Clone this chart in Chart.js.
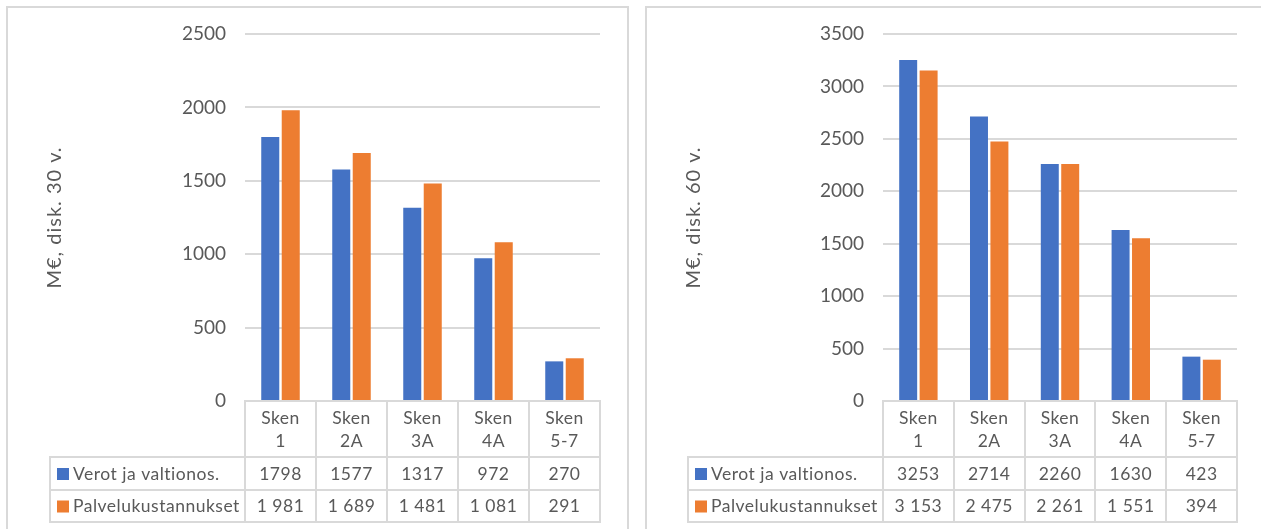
<!DOCTYPE html>
<html>
<head>
<meta charset="utf-8">
<script src="https://cdn.jsdelivr.net/npm/chart.js@4.4.1/dist/chart.umd.min.js"></script>
<style>
  html, body { margin: 0; padding: 0; background: #ffffff; }
  body { width: 1261px; height: 529px; position: relative; overflow: hidden; }
  .panel { position: absolute; box-sizing: border-box; border: 2px solid #d9d9d9; background: #fff; }
  #p1 { left: 6px; top: 6px; width: 623px; height: 540px; }
  #p2 { left: 645px; top: 6px; width: 640px; height: 540px; }
  canvas { position: absolute; top: 0; }
  #c1 { left: 0; }
  #c2 { left: 640px; }
</style>
</head>
<body>
<div class="panel" id="p1"></div>
<div class="panel" id="p2"></div>
<canvas id="c1" width="640" height="529"></canvas>
<canvas id="c2" width="621" height="529"></canvas>
<script>
// ---- data ----
const categories = [["Sken", "1"], ["Sken", "2A"], ["Sken", "3A"], ["Sken", "4A"], ["Sken", "5-7"]];
const seriesNames = ["Verot ja valtionos.", "Palvelukustannukset"];
const verot30 = [1798, 1577, 1317, 972, 270];
const palvelu30 = [1981, 1689, 1481, 1081, 291];
const verot60 = [3253, 2714, 2260, 1630, 423];
const palvelu60 = [3153, 2475, 2261, 1551, 394];
const yTitle30 = "M€, disk. 30 v.";
const yTitle60 = "M€, disk. 60 v.";
const yMax30 = 2500, yMax60 = 3500, yStep = 500;

const BLUE = "#4472C4", ORANGE = "#ED7D31";
const GRID = "#d9d9d9", TEXT = "#595959";
const FONT = "Lato";

function fmtPlain(v) { return String(v); }
function fmtSpaced(v) { return String(v).replace(/\B(?=(\d{3})+(?!\d))/g, " "); }

const tablePlugin = {
  id: "dataTable",
  afterDraw(chart, args, opts) {
    const { ctx, chartArea } = chart;
    const x = chart.scales.x;
    const n = chart.data.labels.length;
    const colW = (chartArea.right - chartArea.left) / n;
    const top = Math.round(chartArea.bottom);
    const r1 = top + 56, r2 = r1 + 33, bottom = r2 + 32;
    const tl = opts.tableLeft;
    const L = Math.round(chartArea.left), R = Math.round(chartArea.right);
    ctx.save();
    ctx.strokeStyle = GRID;
    ctx.lineWidth = 2;
    ctx.beginPath();
    ctx.moveTo(L, top); ctx.lineTo(R, top);
    ctx.moveTo(tl, r1); ctx.lineTo(R, r1);
    ctx.moveTo(tl, r2); ctx.lineTo(R, r2);
    ctx.moveTo(tl - 1, bottom); ctx.lineTo(R + 1, bottom);
    for (let i = 0; i <= n; i++) {
      const xx = Math.round(chartArea.left + i * colW);
      ctx.moveTo(xx, top - 1); ctx.lineTo(xx, bottom);
    }
    ctx.moveTo(tl, r1 - 1); ctx.lineTo(tl, bottom);
    ctx.stroke();

    ctx.fillStyle = TEXT;
    ctx.font = "17.5px " + FONT;
    ctx.letterSpacing = "0.5px";
    ctx.textAlign = "center";
    ctx.textBaseline = "middle";
    chart.data.labels.forEach((lines, i) => {
      const cx = x.getPixelForValue(i);
      lines.forEach((t, j) => ctx.fillText(t, cx, top + 17 + j * 23));
    });
    const rowsY = [(r1 + r2) / 2 + 0.5, (r2 + bottom) / 2 + 0.5];
    const fmts = [fmtPlain, fmtSpaced];
    chart.data.datasets.forEach((ds, k) => {
      const cy = rowsY[k];
      ctx.textAlign = "center";
      ctx.fillStyle = TEXT;
      ds.data.forEach((v, i) => ctx.fillText(fmts[k](v), x.getPixelForValue(i), cy));
      ctx.fillStyle = ds.backgroundColor;
      ctx.fillRect(tl + 7, cy - 6, 12, 12);
      ctx.fillStyle = TEXT;
      ctx.textAlign = "left";
      ctx.fillText(ds.label, tl + 23, cy);
    });

    // y-axis title
    ctx.letterSpacing = "1px";
    ctx.font = "20px " + FONT;
    ctx.fillStyle = TEXT;
    ctx.textAlign = "center";
    ctx.textBaseline = "middle";
    ctx.translate(opts.titleX, (chartArea.top + chartArea.bottom) / 2);
    ctx.rotate(-Math.PI / 2);
    ctx.fillText(opts.title, 0, 0);
    ctx.restore();
  }
};

function makeChart(id, vA, vB, title, yMax, cfg) {
  return new Chart(document.getElementById(id), {
    type: "bar",
    data: {
      labels: categories,
      datasets: [
        { label: seriesNames[0], data: vA, backgroundColor: BLUE },
        { label: seriesNames[1], data: vB, backgroundColor: ORANGE }
      ]
    },
    plugins: [tablePlugin],
    options: {
      responsive: false,
      animation: false,
      events: [],
      layout: { padding: { left: 0, top: cfg.top, right: cfg.right, bottom: cfg.bottom } },
      datasets: { bar: { categoryPercentage: 0.577, barPercentage: 0.88 } },
      plugins: {
        legend: { display: false },
        tooltip: { enabled: false },
        dataTable: { tableLeft: cfg.tableLeft, title: title, titleX: cfg.titleX }
      },
      scales: {
        x: { display: false },
        y: {
          min: 0, max: yMax,
          ticks: { stepSize: yStep, color: TEXT, font: { family: FONT, size: 19 }, padding: cfg.tickPad,
                   callback: (v) => String(v) },
          grid: { color: GRID, lineWidth: 2, drawTicks: false },
          border: { display: false },
          title: { display: false },
          afterFit(scale) { scale.width = cfg.axisW; }
        }
      }
    }
  });
}

makeChart("c1", verot30, palvelu30, yTitle30, yMax30,
  { top: 34, right: 40, bottom: 128, axisW: 245, tickPad: 19, titleX: 55, tableLeft: 50 });
makeChart("c2", verot60, palvelu60, yTitle60, yMax60,
  { top: 34, right: 24, bottom: 128, axisW: 243, tickPad: 19, titleX: 54, tableLeft: 48 });
</script>
</body>
</html>
